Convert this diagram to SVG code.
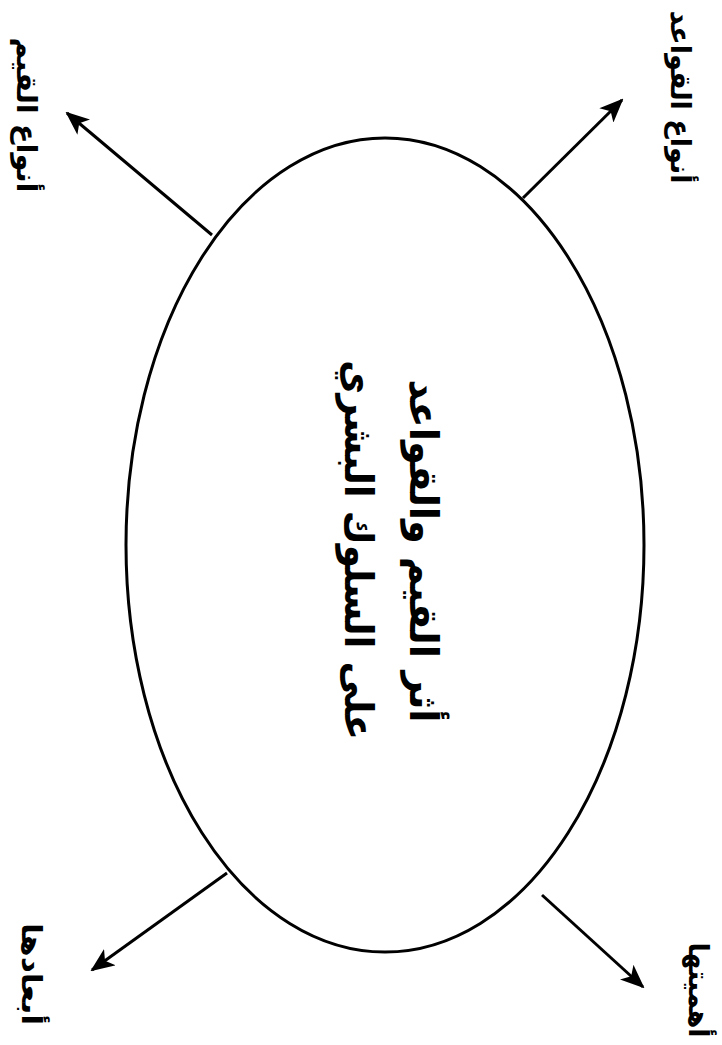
<svg xmlns="http://www.w3.org/2000/svg" width="722" height="1045" viewBox="0 0 722 1045">
<style>
.t{font-family:"DejaVu Sans",sans-serif;font-weight:bold;fill:#000;text-anchor:middle;direction:rtl}
.c{stroke:#000;stroke-width:3;fill:none}
</style>
<defs>
<marker id="ah" viewBox="0 0 24 20" refX="22" refY="10" markerWidth="24" markerHeight="20" markerUnits="userSpaceOnUse" orient="auto">
<path d="M0,0 L24,10 L0,20 L6,10 Z" fill="#000"/>
</marker>
</defs>
<rect width="722" height="1045" fill="#fff"/>
<g id="center">
<ellipse cx="385" cy="545" rx="259" ry="407" fill="none" stroke="#000" stroke-width="3"/>
<text class="t" font-size="40" transform="translate(410,551) rotate(90)" textLength="343" lengthAdjust="spacingAndGlyphs">أثر القيم والقواعد</text>
<text class="t" font-size="40" transform="translate(345,550) rotate(90)" textLength="380" lengthAdjust="spacingAndGlyphs">على السلوك البشري</text>
</g>
<g id="connectors">
<line class="c" x1="212" y1="235" x2="67" y2="113" marker-end="url(#ah)"/>
<line class="c" x1="523" y1="198" x2="622" y2="100" marker-end="url(#ah)"/>
<line class="c" x1="227" y1="873" x2="92" y2="970" marker-end="url(#ah)"/>
<line class="c" x1="542" y1="895" x2="643" y2="987" marker-end="url(#ah)"/>
</g>
<g id="n-rules"><text class="t" font-size="28" transform="translate(671,97) rotate(90)" textLength="173" lengthAdjust="spacingAndGlyphs">أنواع القواعد</text></g>
<g id="n-values"><text class="t" font-size="28" transform="translate(17,115) rotate(90)" textLength="155" lengthAdjust="spacingAndGlyphs">أنواع القيم</text></g>
<g id="n-dims"><text class="t" font-size="28" transform="translate(22,974) rotate(90)" textLength="102" lengthAdjust="spacingAndGlyphs">أبعادها</text></g>
<g id="n-importance"><text class="t" font-size="28" transform="translate(689,990) rotate(90)" textLength="95" lengthAdjust="spacingAndGlyphs">أهميتها</text></g>
</svg>
